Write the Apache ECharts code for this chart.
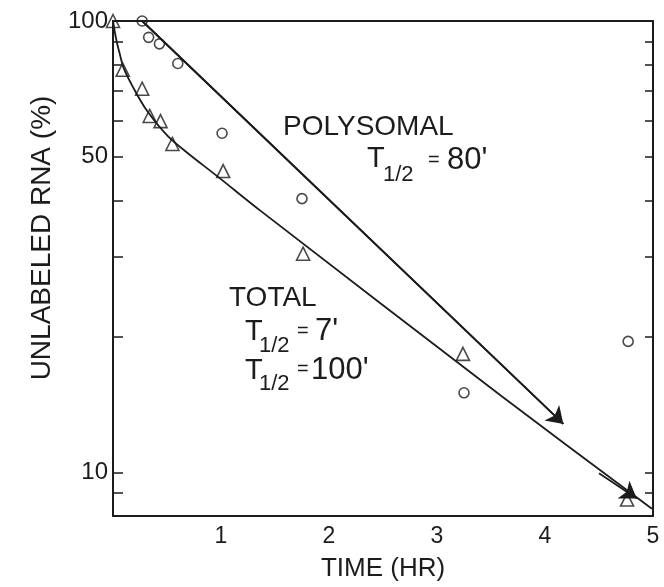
<!DOCTYPE html>
<html>
<head>
<meta charset="utf-8">
<script src="https://cdn.jsdelivr.net/npm/echarts@6/dist/echarts.min.js"></script>
<style>
  html, body { margin: 0; padding: 0; background: #fff; }
  #container { width: 664px; height: 587px; }
</style>
</head>
<body>
<div id="container"></div>
<script>
// values: [time (hr), unlabeled RNA (%)]
var polysomalPoints = [[0.27, 100], [0.33, 92], [0.43, 89], [0.60, 80.5], [1.01, 56.4], [1.75, 40.4], [3.25, 15.0], [4.77, 19.5]];
var totalPoints = [[0, 100], [0.09, 78], [0.27, 70.8], [0.34, 61.6], [0.44, 60], [0.55, 53.4], [1.02, 46.5], [1.76, 30.5], [3.24, 18.3], [4.76, 8.7]];

// fitted lines
var polysomalFit = [[0.27, 100], [4.17, 12.8]];
var totalFit = [[0, 100], [0.03, 91], [0.06, 85], [0.10, 78.5], [0.19, 71], [0.31, 63.5], [0.51, 55.5], [0.69, 51], [0.97, 45.2], [1.37, 37.9], [3.59, 14.8], [4.99, 8.3]];
var totalArrow = [[4.5, 9.95], [4.85, 8.75]];

var xTicks = [1, 2, 3, 4, 5];
var yLabels = [10, 50, 100];
var yTicks = [9, 10, 20, 30, 40, 50, 60, 70, 80, 90, 100];

(function(){
    var dom = document.getElementById("container");
    var myChart = echarts.init(dom, null, {renderer: 'canvas'});
    var ink = '#1c1c1c';
    var font = 'Liberation Sans';

    // plain text placed by its left edge / vertical middle
    function txt(x, y, s, size) {
        return {
            type: 'text', x: x, y: y,
            style: { text: s, fill: ink, font: size + 'px "' + font + '"', textVerticalAlign: 'middle' }
        };
    }

    function yAxis(pos, labels, tickLen) {
        return {
            type: 'log',
            logBase: 10,
            position: pos,
            min: 8,
            max: 100,
            splitLine: { show: false },
            axisLine: { show: true, onZero: false, lineStyle: { color: ink, width: 2 } },
            axisTick: { show: true, inside: true, length: tickLen, customValues: yTicks, lineStyle: { color: ink, width: 1.5 } },
            minorTick: { show: false },
            axisLabel: labels
                ? { customValues: yLabels, color: ink, fontSize: 24, fontFamily: font, margin: 5 }
                : { show: false }
        };
    }

    var arrowLine = {
        silent: true,
        symbol: ['none', 'arrow'],
        symbolSize: 16,
        label: { show: false },
        lineStyle: { color: ink, width: 1.8, type: 'solid' }
    };

    var option = {
        animation: false,
        grid: { left: 113, right: 11, top: 21, bottom: 67 },
        xAxis: [{
            type: 'value',
            min: 0,
            max: 5,
            interval: 1,
            name: 'TIME (HR)',
            nameLocation: 'middle',
            nameGap: 40,
            nameTextStyle: { color: ink, fontSize: 26, fontFamily: font },
            splitLine: { show: false },
            axisTick: { show: false },
            axisLine: { onZero: false, lineStyle: { color: ink, width: 2 } },
            axisLabel: { customValues: xTicks, color: ink, fontSize: 23, fontFamily: font, margin: 9 }
        }, {
            type: 'value',
            position: 'top',
            min: 0,
            max: 5,
            splitLine: { show: false },
            axisTick: { show: false },
            axisLabel: { show: false },
            axisLine: { show: true, onZero: false, lineStyle: { color: ink, width: 2 } }
        }],
        yAxis: [yAxis('left', true, 10), yAxis('right', false, 8)],
        series: [
            {
                name: 'total fit',
                type: 'line',
                data: totalFit,
                showSymbol: false,
                symbol: 'none',
                smooth: 0.3,
                lineStyle: { color: ink, width: 1.8 },
                markLine: echarts.util.extend({
                    data: [[{ coord: totalArrow[0] }, { coord: totalArrow[1] }]]
                }, arrowLine)
            },
            {
                name: 'polysomal fit',
                type: 'line',
                data: polysomalFit,
                showSymbol: false,
                symbol: 'none',
                lineStyle: { color: ink, width: 1.8 },
                markLine: echarts.util.extend({
                    data: [[{ coord: polysomalFit[0] }, { coord: polysomalFit[1] }]]
                }, arrowLine)
            },
            {
                name: 'POLYSOMAL',
                type: 'scatter',
                data: polysomalPoints,
                symbol: 'circle',
                symbolSize: 10,
                itemStyle: { color: 'rgba(0,0,0,0)', borderColor: ink, borderWidth: 1.6 }
            },
            {
                name: 'TOTAL',
                type: 'scatter',
                data: totalPoints,
                symbol: 'triangle',
                symbolSize: 13,
                itemStyle: { color: 'rgba(0,0,0,0)', borderColor: ink, borderWidth: 1.6 }
            }
        ],
        graphic: [
            {
                type: 'text', x: 42, y: 238, rotation: Math.PI / 2,
                style: { text: 'UNLABELED RNA (%)', fill: ink, font: '28px "' + font + '"', textAlign: 'center', textVerticalAlign: 'middle' }
            },
            txt(283, 127, 'POLYSOMAL', 28),
            txt(367, 159, 'T', 29),
            txt(383, 175, '1/2', 22),
            txt(428, 160, '=', 20),
            txt(447, 160, "80'", 31),
            txt(229, 298, 'TOTAL', 28),
            txt(245, 332, 'T', 29),
            txt(259, 346, '1/2', 22),
            txt(297, 331, '=', 20),
            txt(315, 331, "7'", 31),
            txt(245, 371, 'T', 29),
            txt(259, 384, '1/2', 22),
            txt(297, 369, '=', 20),
            txt(311, 370, "100'", 31)
        ]
    };

    myChart.setOption(option, true);
    window.onresize = myChart.resize;
}())
</script>
</body>
</html>
